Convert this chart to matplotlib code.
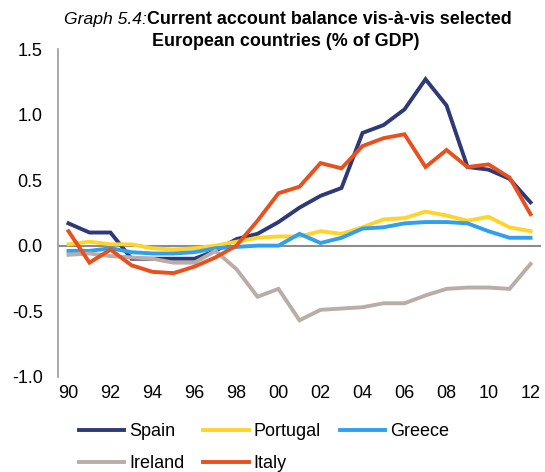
import numpy as np
import matplotlib.pyplot as plt

plt.rcParams['font.family'] = ['Liberation Sans', 'DejaVu Sans']

years = list(range(1990, 2013))
spain = [0.17, 0.10, 0.10, -0.10, -0.10, -0.10, -0.10, -0.04, 0.05, 0.09, 0.18, 0.29,
         0.38, 0.44, 0.86, 0.92, 1.04, 1.27, 1.07, 0.60, 0.58, 0.51, 0.33]
portugal = [0.01, 0.03, 0.01, 0.01, -0.02, -0.03, -0.02, 0.00, 0.03, 0.06, 0.07, 0.07,
            0.11, 0.09, 0.14, 0.20, 0.21, 0.26, 0.23, 0.19, 0.22, 0.14, 0.11]
greece = [-0.04, -0.04, -0.02, -0.05, -0.06, -0.06, -0.05, -0.02, -0.01, 0.00, 0.00, 0.09,
          0.02, 0.06, 0.13, 0.14, 0.17, 0.18, 0.18, 0.17, 0.11, 0.06, 0.06]
ireland = [-0.07, -0.06, -0.08, -0.09, -0.10, -0.13, -0.13, -0.04, -0.18, -0.39, -0.33, -0.57,
           -0.49, -0.48, -0.47, -0.44, -0.44, -0.38, -0.33, -0.32, -0.32, -0.33, -0.14]
italy = [0.11, -0.13, -0.03, -0.15, -0.20, -0.21, -0.16, -0.09, 0.00, 0.19, 0.40, 0.45,
         0.63, 0.59, 0.76, 0.82, 0.85, 0.60, 0.73, 0.60, 0.62, 0.52, 0.24]

series = [("Spain", spain, "#2E3A78"),
          ("Portugal", portugal, "#FFD42A"),
          ("Greece", greece, "#2FA0F0"),
          ("Ireland", ireland, "#BAADA5"),
          ("Italy", italy, "#E8501E")]

fig = plt.figure(figsize=(5.45, 4.72), dpi=100)
ax = fig.add_axes([0.1064, 0.202, 0.8863, 0.694])

ax.axhline(0, color="#8c8c8c", lw=1.5, zorder=1)
lines = {}
for name, vals, col in series:
    lines[name], = ax.plot(years, vals, color=col, lw=2.8, label=name,
                           solid_joinstyle="miter", zorder=2)

ax.set_xlim(1989.5, 2012.5)
ax.set_ylim(-1.0, 1.5)
ax.set_yticks(np.arange(-1.0, 1.51, 0.5))
ax.set_yticklabels([f"{v:.1f}" for v in np.arange(-1.0, 1.51, 0.5)])
xt = list(range(1990, 2013, 2))
ax.set_xticks(xt)
ax.set_xticklabels([f"{y % 100:02d}" for y in xt])
ax.tick_params(axis="both", length=0, labelsize=13)
ax.tick_params(axis="y", pad=11)
ax.tick_params(axis="x", pad=6)
for s in ["top", "right", "bottom"]:
    ax.spines[s].set_visible(False)
ax.spines["left"].set_color("#999999")
ax.spines["left"].set_linewidth(1.2)

order = ["Spain", "Ireland", "Portugal", "Italy", "Greece"]
fig.legend([lines[n] for n in order], order, ncol=3, loc="upper left",
           bbox_to_anchor=(0.145, 0.103), frameon=False, fontsize=13,
           handlelength=2.5, handletextpad=0.28, columnspacing=1.05,
           labelspacing=0.82, borderpad=0, borderaxespad=0)

fig.text(146.5 / 545, 0.958, "Graph 5.4:", ha="right", va="center",
         fontsize=12.6, style="italic")
fig.text(147 / 545, 0.958, "Current account balance vis-à-vis selected",
         ha="left", va="center", fontsize=12.9, weight="bold")
fig.text(286 / 545, 0.912, "European countries (% of GDP)", ha="center",
         va="center", fontsize=12.9, weight="bold")

fig.savefig("out.png", dpi=100)
